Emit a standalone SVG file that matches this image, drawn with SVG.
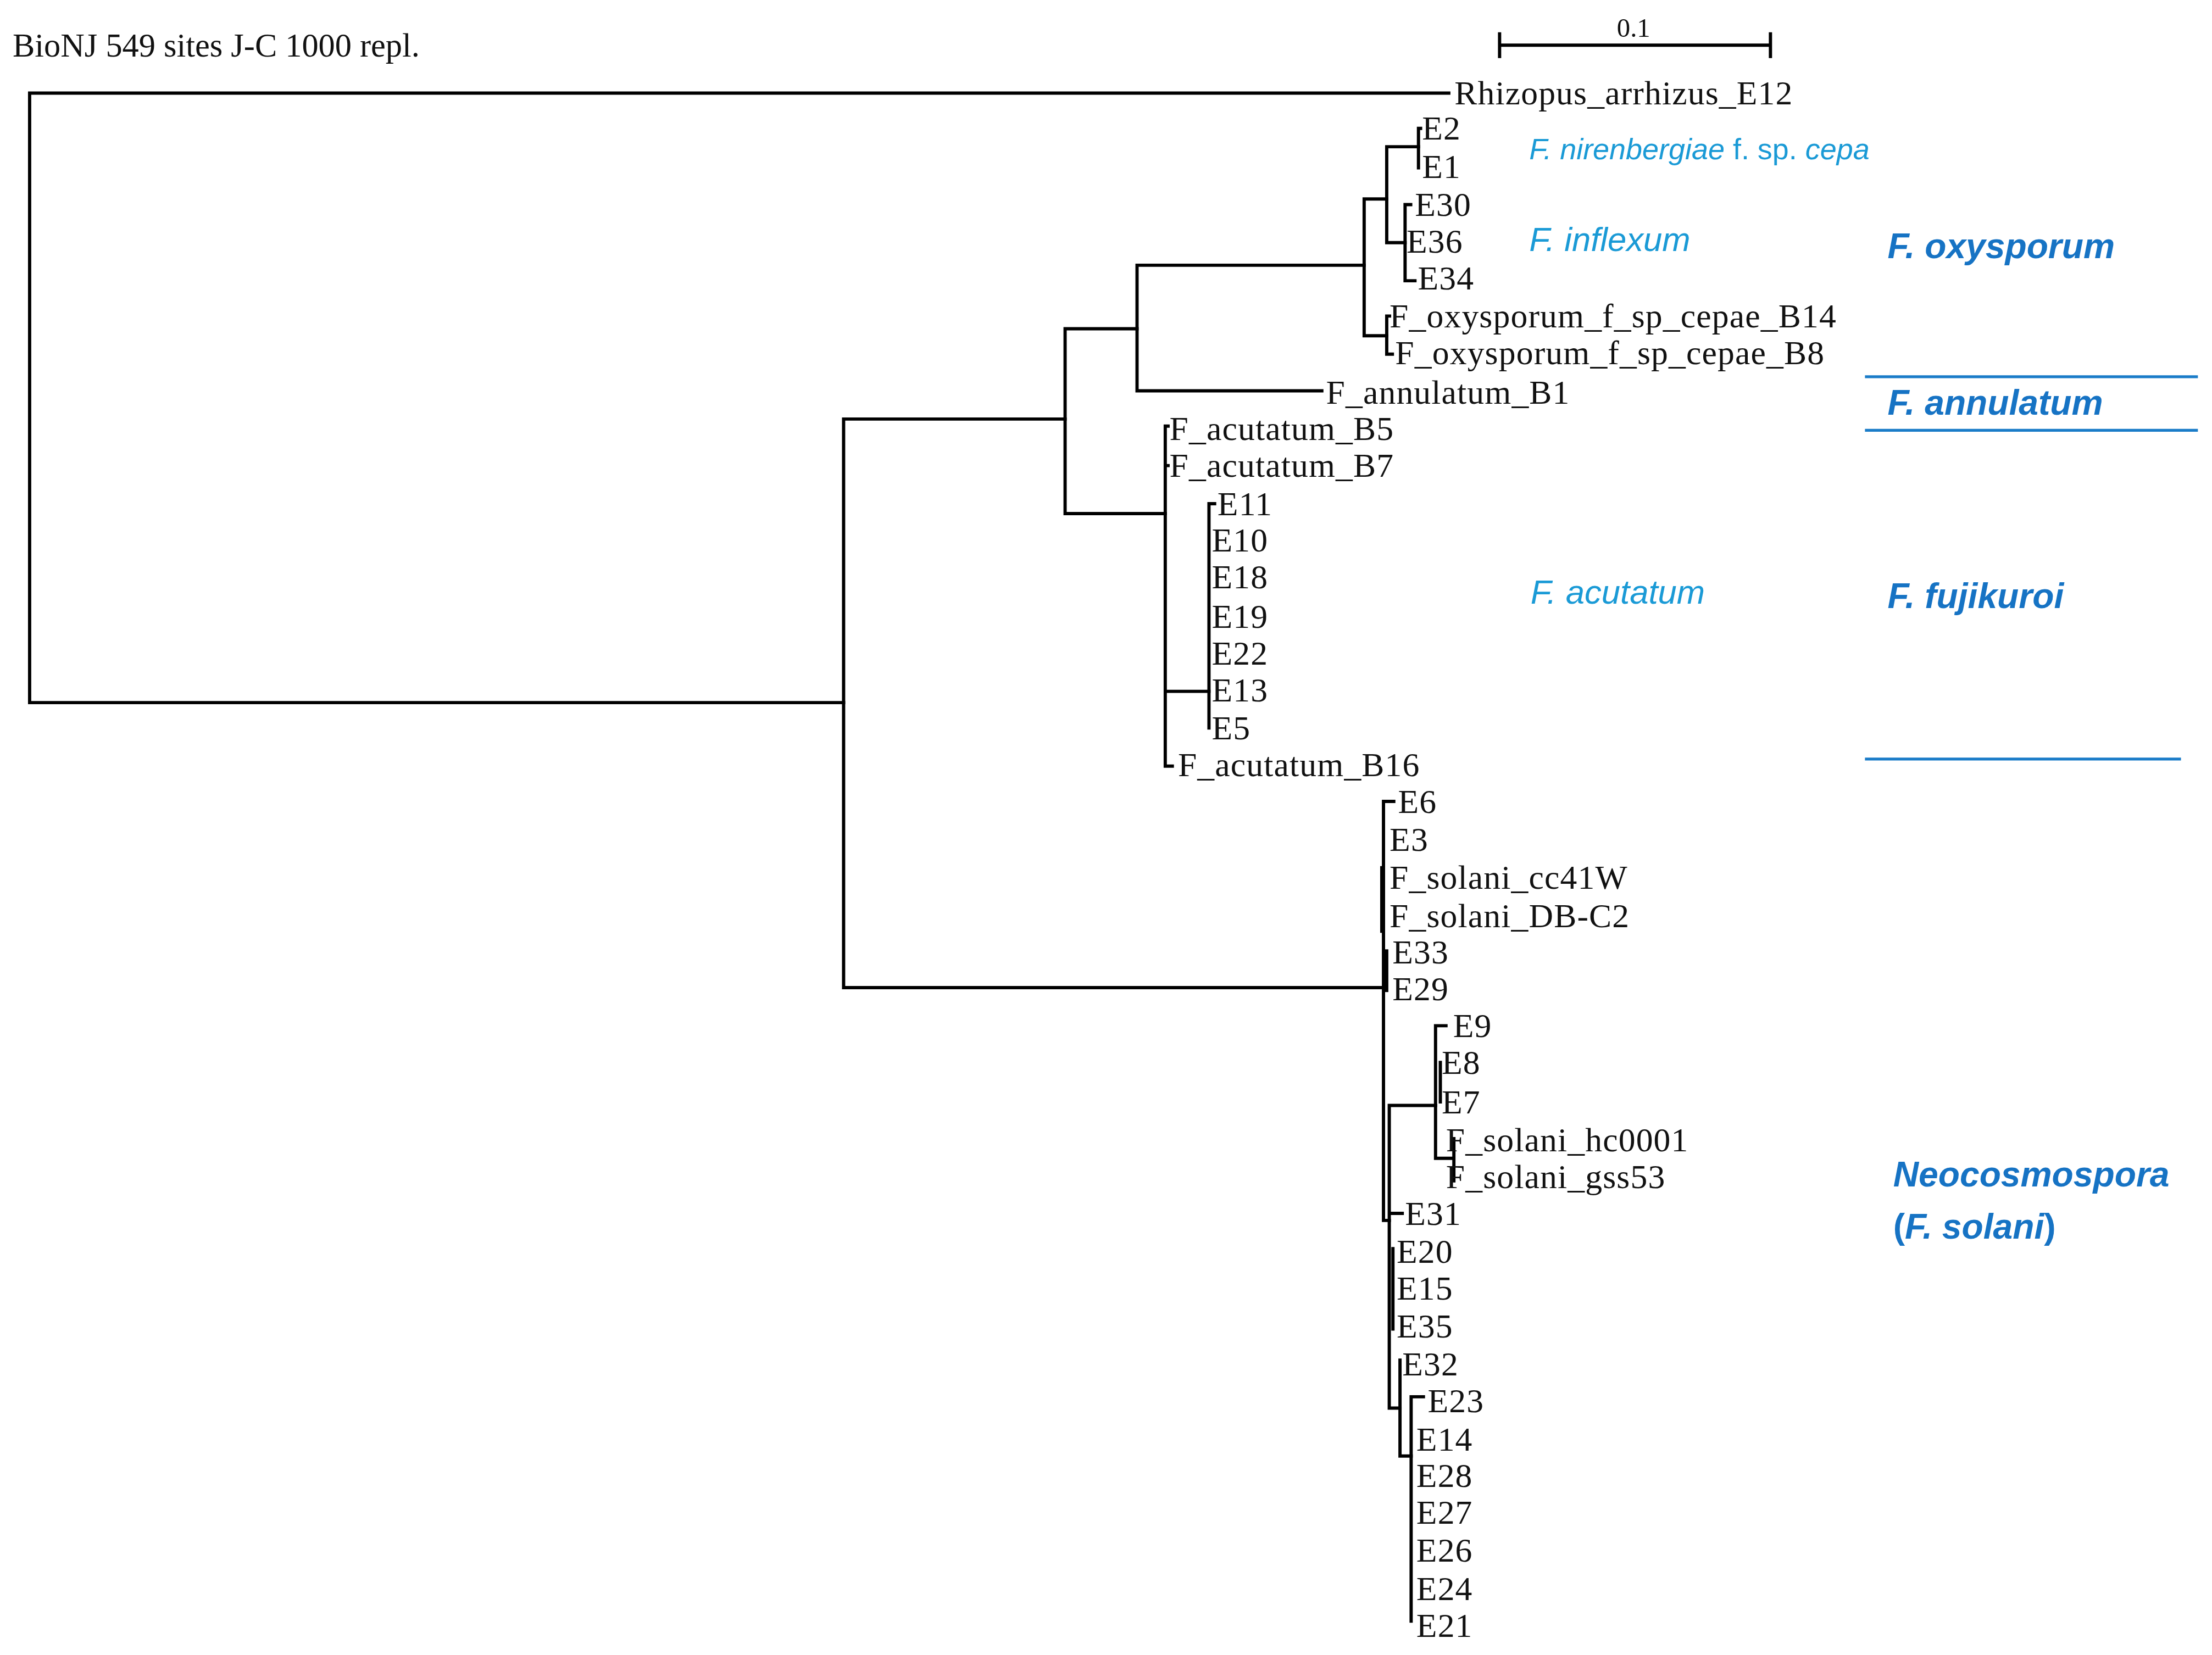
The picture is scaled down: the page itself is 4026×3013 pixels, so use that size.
<svg xmlns="http://www.w3.org/2000/svg" width="4026" height="3013" viewBox="0 0 4026 3013">
<style>
.t{font-family:"Liberation Serif",serif;font-size:24px;fill:#111;letter-spacing:0.45px}
.br{fill:none;stroke:#000;stroke-width:2.3;stroke-linecap:square}
.lb{font-family:"Liberation Sans",sans-serif;font-style:italic;font-size:24px;fill:#1a9ad6}
.cl{font-family:"Liberation Sans",sans-serif;font-style:italic;font-weight:bold;font-size:25px;fill:#1673c4}
.sep{stroke:#1a7cc8;stroke-width:2}
</style>
<rect width="4026" height="3013" fill="#fff"/>
<g transform="scale(2.5676,2.5686)">
<g id="header">
<text class="t" x="9" y="40" style="font-size:23.5px;letter-spacing:0">BioNJ 549 sites J-C 1000 repl.</text>
<path class="br" d="M1063,32H1255M1063,24V40M1255,24V40"/>
<text class="t" x="1158" y="26" text-anchor="middle" style="font-size:19px;letter-spacing:0">0.1</text>
</g>
<g id="connectors">
<path class="br" d="M21,66V498M21,66H1027M21,498H598"/>
<path class="br" d="M598,297V700M598,297H755M598,700H980.7"/>
<path class="br" d="M755,233V364M755,233H806M755,364H826"/>
<path class="br" d="M806,188V277M806,188H967M806,277H937"/>
<path class="br" d="M967,141V238M967,141H983M967,238H983"/>
<path class="br" d="M983,104V172M983,104H1005.5M983,172H996"/>
<path class="br" d="M1005.5,91V119M1005.5,91H1007"/>
<path class="br" d="M996,145V199M996,145H1000M996,199H1003"/>
<path class="br" d="M983,224V251M983,224H985M983,251H987"/>
<path class="br" d="M826,302V543M826,302H828M826,330H828M826,490H857M826,543H831"/>
<path class="br" d="M857,357V516M857,357H861"/>
<path class="br" d="M980.7,568V865M980.7,568H988M979.5,615V660M980.7,865H984.8"/>
<path class="br" d="M983,674V702"/>
<path class="br" d="M984.8,783.5V998M984.8,783.5H1017.6M984.8,860H994M984.8,998H992.4"/>
<path class="br" d="M987.4,885V942"/>
<path class="br" d="M1017.6,727V821M1017.6,727H1025M1021,753V781M1017.6,821H1030.6M1030.6,807V837"/>
<path class="br" d="M992.4,964V1032M992.4,1032H1000.3"/>
<path class="br" d="M1000.3,990V1149M1000.3,990H1009"/>
</g>
<g id="leaves">
<text class="t" x="1031" y="74">Rhizopus_arrhizus_E12</text>
<text class="t" x="1008" y="99">E2</text>
<text class="t" x="1008" y="126">E1</text>
<text class="t" x="1003" y="153">E30</text>
<text class="t" x="997" y="179">E36</text>
<text class="t" x="1005" y="205">E34</text>
<text class="t" x="985" y="232">F_oxysporum_f_sp_cepae_B14</text>
<text class="t" x="989" y="258">F_oxysporum_f_sp_cepae_B8</text>
<text class="t" x="940" y="286">F_annulatum_B1</text>
<text class="t" x="829" y="312">F_acutatum_B5</text>
<text class="t" x="829" y="338">F_acutatum_B7</text>
<text class="t" x="863" y="365">E11</text>
<text class="t" x="859" y="391">E10</text>
<text class="t" x="859" y="417">E18</text>
<text class="t" x="859" y="445">E19</text>
<text class="t" x="859" y="471">E22</text>
<text class="t" x="859" y="497">E13</text>
<text class="t" x="859" y="524">E5</text>
<text class="t" x="835" y="550">F_acutatum_B16</text>
<text class="t" x="991" y="576">E6</text>
<text class="t" x="985" y="603">E3</text>
<text class="t" x="985" y="630">F_solani_cc41W</text>
<text class="t" x="985" y="657">F_solani_DB-C2</text>
<text class="t" x="987" y="683">E33</text>
<text class="t" x="987" y="709">E29</text>
<text class="t" x="1030" y="735">E9</text>
<text class="t" x="1022" y="761">E8</text>
<text class="t" x="1022" y="789">E7</text>
<text class="t" x="1025" y="816">F_solani_hc0001</text>
<text class="t" x="1025" y="842">F_solani_gss53</text>
<text class="t" x="996" y="868">E31</text>
<text class="t" x="990" y="895">E20</text>
<text class="t" x="990" y="921">E15</text>
<text class="t" x="990" y="948">E35</text>
<text class="t" x="994" y="975">E32</text>
<text class="t" x="1012" y="1001">E23</text>
<text class="t" x="1004" y="1028">E14</text>
<text class="t" x="1004" y="1054">E28</text>
<text class="t" x="1004" y="1080">E27</text>
<text class="t" x="1004" y="1107">E26</text>
<text class="t" x="1004" y="1134">E24</text>
<text class="t" x="1004" y="1160">E21</text>
</g>
<g id="labels">
<text class="lb" x="1084" y="113" style="font-size:21px">F. nirenbergiae<tspan font-style="normal"> f. sp. </tspan>cepa</text>
<text class="lb" x="1084" y="178">F. inflexum</text>
<text class="lb" x="1085" y="428">F. acutatum</text>
<text class="cl" x="1338" y="183">F. oxysporum</text>
<text class="cl" x="1338" y="294">F. annulatum</text>
<text class="cl" x="1338" y="431">F. fujikuroi</text>
<text class="cl" x="1342" y="841">Neocosmospora</text>
<text class="cl" x="1342" y="878"><tspan font-style="normal">(</tspan>F. solani<tspan font-style="normal">)</tspan></text>
<line class="sep" x1="1322" y1="267" x2="1558" y2="267"/>
<line class="sep" x1="1322" y1="305" x2="1558" y2="305"/>
<line class="sep" x1="1322" y1="538" x2="1546" y2="538"/>
</g>
</g>
</svg>
